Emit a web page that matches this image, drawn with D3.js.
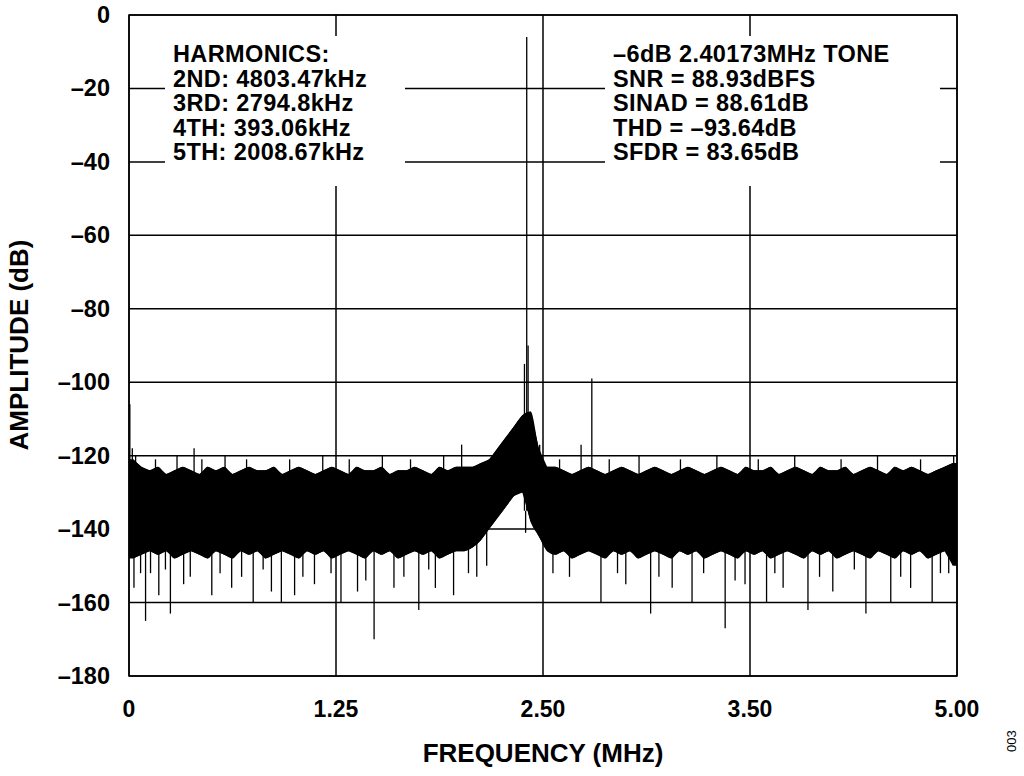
<!DOCTYPE html>
<html><head><meta charset="utf-8">
<script src="https://cdn.jsdelivr.net/npm/d3@7"></script>
<style>body{margin:0;background:#fff}text{font-family:Arial,"Liberation Sans",sans-serif;font-weight:bold}</style>
</head><body><svg id="c" width="1024" height="776"></svg>
<script>
// noise floor envelope per 0.05 MHz bin (dB), read by eye
var floorTop = [-121,-123,-124,-123,-125,-124,-123,-124,-125,-123,
  -124,-123,-125,-124,-123,-124,-124,-123,-125,-124,
  -123,-124,-125,-124,-123,-124,-125,-123,-124,-124,
  -123,-125,-124,-124,-123,-124,-125,-123,-124,-123,
  -123,-123,-122,-121,-118,-115,-112,-109,-108,-118,
  -123,-123,-124,-125,-124,-123,-124,-125,-124,-123,
  -124,-125,-124,-123,-124,-125,-124,-123,-124,-125,
  -124,-123,-124,-125,-123,-124,-124,-123,-125,-124,
  -123,-124,-125,-123,-124,-124,-123,-125,-124,-123,
  -124,-125,-123,-124,-123,-124,-125,-124,-123,-122];
var floorBottom = [-148,-147,-146,-147,-146,-148,-147,-146,-147,-148,
  -146,-147,-148,-146,-147,-146,-148,-147,-146,-147,
  -148,-146,-147,-146,-148,-147,-146,-147,-148,-146,
  -147,-146,-148,-147,-146,-147,-146,-148,-147,-146,
  -146,-145,-143,-140,-137,-134,-131,-130,-138,-142,
  -146,-147,-146,-148,-147,-146,-147,-148,-146,-147,
  -146,-148,-147,-146,-147,-148,-146,-147,-146,-148,
  -147,-146,-147,-148,-146,-147,-146,-148,-147,-146,
  -147,-148,-146,-147,-146,-148,-147,-146,-147,-148,
  -146,-147,-148,-146,-147,-146,-148,-147,-146,-150];
// individual spurs and deep nulls: [MHz, dB]
var spikes = [[0.005,-106],[0.02,-118],[0.03,-156],[0.07,-152],[0.1,-165],[0.18,-158],[0.25,-163],[0.33,-155],[0.393,-118],
  [0.5,-158],[0.62,-156],[0.75,-160],[0.86,-157],[0.92,-160],[1.0,-158],[1.12,-155],[1.28,-160],[1.38,-157],[1.48,-170],
  [1.6,-156],[1.75,-162],[1.85,-156],[1.96,-158],[2.00867,-117],[2.1,-153],[2.388,-95],[2.40173,-6],[2.41,-90],[2.395,-141],
  [2.73,-117],[2.7948,-99],[2.85,-160],[3.0,-155],[3.15,-163],[3.28,-156],[3.4,-160],[3.6,-167],[3.72,-155],[3.85,-160],
  [3.95,-156],[4.1,-162],[4.25,-157],[4.45,-163],[4.6,-160],[4.72,-156],[4.85,-160],[4.95,-152]];
// shorter grass above and below the floor
var grass = [[0.04,-120],[0.13,-152],[0.16,-121],[0.22,-151],[0.29,-120],[0.37,-153],[0.44,-121],[0.55,-152],[0.58,-120],
  [0.68,-153],[0.71,-121],[0.81,-151],[0.97,-121],[1.05,-153],[1.17,-120],[1.22,-152],[1.33,-121],[1.43,-154],[1.53,-120],
  [1.66,-153],[1.7,-121],[1.81,-151],[1.9,-120],[2.05,-152],[2.16,-150],[2.48,-117],[2.56,-152],[2.6,-121],[2.66,-153],
  [2.9,-121],[2.95,-152],[3.08,-120],[3.2,-153],[3.33,-121],[3.47,-152],[3.55,-120],[3.66,-154],[3.8,-121],[3.9,-152],
  [4.02,-120],[4.17,-153],[4.3,-121],[4.38,-151],[4.52,-120],[4.66,-153],[4.78,-121],[4.9,-152],[4.98,-120]];
var yTicks = [0,-20,-40,-60,-80,-100,-120,-140,-160,-180];
var xTicks = [0,1.25,2.5,3.75,5];
var xTickLabels = ["0","1.25","2.50","3.50","5.00"];
var leftNotes = ["HARMONICS:","2ND: 4803.47kHz","3RD: 2794.8kHz","4TH: 393.06kHz","5TH: 2008.67kHz"];
var rightNotes = ["\u20136dB 2.40173MHz TONE","SNR = 88.93dBFS","SINAD = 88.61dB","THD = \u201393.64dB","SFDR = 83.65dB"];

var svg = d3.select("#c");
var x = d3.scaleLinear().domain([0,5]).range([129,957]);
var y = d3.scaleLinear().domain([0,-180]).range([15,676]);

var g = svg.append("g");
g.selectAll(".hg").data(yTicks).join("line").attr("x1",129).attr("x2",957)
  .attr("y1",d=>y(d)).attr("y2",d=>y(d)).attr("stroke","#000").attr("stroke-width",1.5);
g.selectAll(".vg").data(xTicks).join("line").attr("y1",15).attr("y2",676)
  .attr("x1",d=>x(d)).attr("x2",d=>x(d)).attr("stroke","#000").attr("stroke-width",1.5);

// text boxes with white backing
function notes(list, x0, w){
  svg.append("rect").attr("x",x0-8).attr("y",36).attr("width",w).attr("height",150).attr("fill","#fff");
  svg.append("g").selectAll("text").data(list).join("text").attr("x",x0).attr("y",(d,i)=>62+i*24.5)
    .attr("font-size",23.5).attr("letter-spacing",0.4).text(d=>d);
}
notes(leftNotes,173,240);
notes(rightNotes,613,335);

var bins = floorTop.map((t,i)=>({f:i*0.05+0.025,t:t,b:floorBottom[i]}));
svg.append("path").datum(bins).attr("d",d3.area().x(d=>x(d.f)).y0(d=>y(d.b)).y1(d=>y(d.t)).curve(d3.curveMonotoneX))
  .attr("fill","#000");
svg.append("path").datum([{f:0,t:floorTop[0],b:floorBottom[0]}].concat(bins,[{f:5,t:floorTop[99],b:floorBottom[99]}]))
  .attr("d",d3.area().x(d=>x(d.f)).y0(d=>y(d.b)).y1(d=>y(d.t))).attr("fill","#000");
svg.append("g").selectAll("line").data(spikes.concat(grass)).join("line")
  .attr("x1",d=>x(d[0])).attr("x2",d=>x(d[0])).attr("y1",y(-135)).attr("y2",d=>y(d[1]))
  .attr("stroke","#000").attr("stroke-width",1.3);

// frame
svg.append("rect").attr("x",129).attr("y",15).attr("width",828).attr("height",661)
  .attr("fill","none").attr("stroke","#000").attr("stroke-width",1.5);

svg.append("g").selectAll("text").data(yTicks).join("text").attr("x",110).attr("y",d=>y(d)+8)
  .attr("text-anchor","end").attr("font-size",23.5).text(d=>d<0?"\u2013"+(-d):d);
svg.append("g").selectAll("text").data(xTicks).join("text").attr("x",d=>x(d)).attr("y",717)
  .attr("text-anchor","middle").attr("font-size",23).text((d,i)=>xTickLabels[i]);
svg.append("text").attr("x",543).attr("y",762).attr("text-anchor","middle").attr("font-size",26).text("FREQUENCY (MHz)");
svg.append("text").attr("transform","translate(28,345) rotate(-90)").attr("text-anchor","middle").attr("font-size",26).text("AMPLITUDE (dB)");
svg.append("text").attr("transform","translate(1016,752) rotate(-90)").attr("font-size",13).style("font-weight","normal").text("003");
</script></body></html>
